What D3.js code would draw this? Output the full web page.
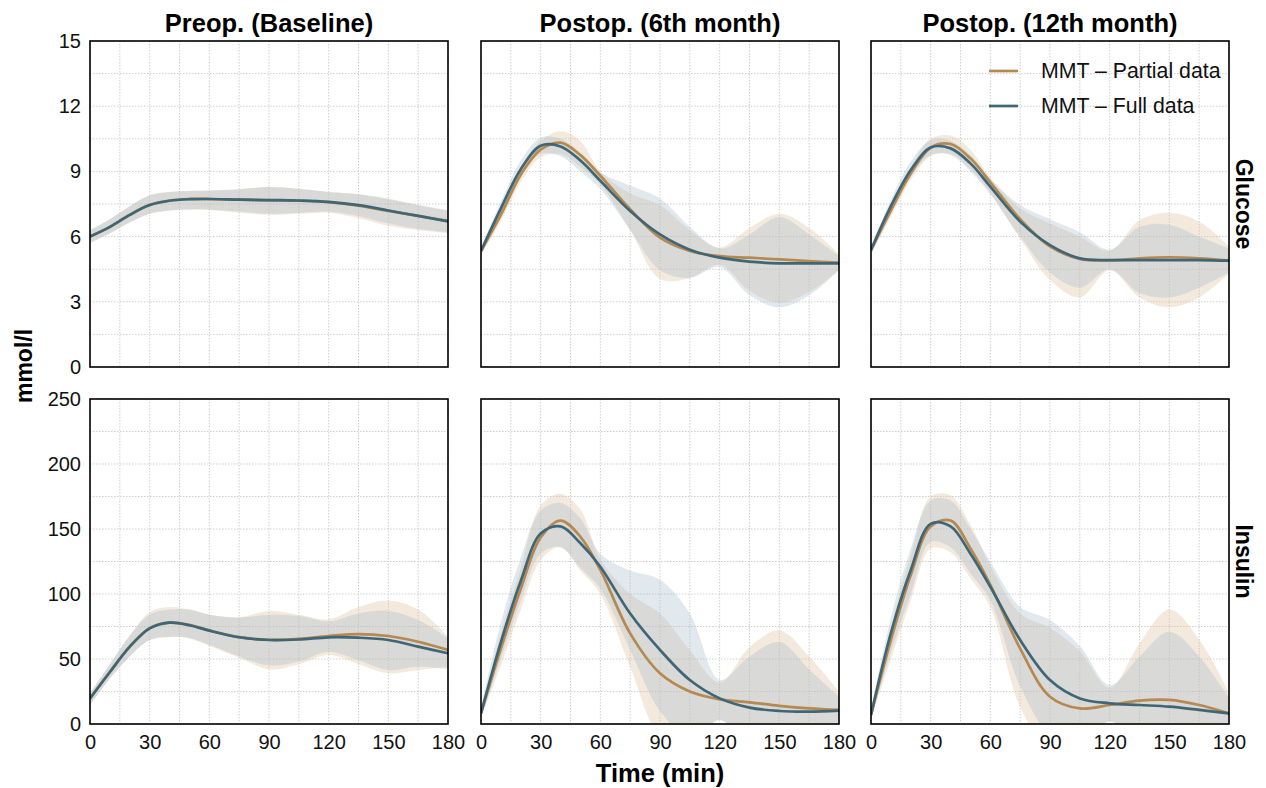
<!DOCTYPE html>
<html><head><meta charset="utf-8">
<script src="https://cdn.jsdelivr.net/npm/d3@7"></script>
<style>
body{margin:0;background:#fff;}
text{font-family:"Liberation Sans",Arial,Helvetica,sans-serif;}
</style></head>
<body><svg id="chart" width="1266" height="788"></svg>
<script>
// ---- data ----
const times = [0, 10, 20, 30, 40, 50, 60, 75, 90, 105, 120, 135, 150, 165, 180];
const xTicks = [0, 30, 60, 90, 120, 150, 180];
const gluTicks = [0, 3, 6, 9, 12, 15];
const insTicks = [0, 50, 100, 150, 200, 250];
const columns = ["Preop. (Baseline)", "Postop. (6th month)", "Postop. (12th month)"];
const rows = ["Glucose", "Insulin"];
const seriesNames = ["MMT \u2013 Partial data", "MMT \u2013 Full data"];

// Glucose, baseline
const gluBasePart   = [6.0, 6.45, 7.0, 7.45, 7.66, 7.73, 7.73, 7.7, 7.67, 7.65, 7.58, 7.42, 7.18, 6.95, 6.72];
const gluBasePartLo = [5.7, 6.15, 6.65, 7.05, 7.2, 7.25, 7.22, 7.1, 7.0, 7.05, 7.1, 6.85, 6.5, 6.3, 6.15];
const gluBasePartHi = [6.3, 6.8, 7.4, 7.9, 8.05, 8.1, 8.12, 8.18, 8.28, 8.2, 8.05, 7.95, 7.75, 7.45, 7.2];
const gluBaseFull   = [6.0, 6.45, 7.0, 7.45, 7.65, 7.72, 7.73, 7.7, 7.68, 7.66, 7.6, 7.45, 7.2, 6.95, 6.7];
const gluBaseFullLo = [5.7, 6.15, 6.65, 7.05, 7.2, 7.25, 7.25, 7.15, 7.05, 7.1, 7.15, 6.95, 6.6, 6.35, 6.2];
const gluBaseFullHi = [6.3, 6.8, 7.4, 7.9, 8.05, 8.1, 8.12, 8.18, 8.28, 8.2, 8.05, 7.95, 7.72, 7.45, 7.2];
// Glucose, 6th month
const gluM6Part   = [5.34, 7.0, 8.85, 10.0, 10.32, 9.75, 8.8, 7.26, 5.95, 5.34, 5.1, 5.03, 4.95, 4.87, 4.8];
const gluM6PartLo = [5.15, 6.7, 8.5, 9.65, 9.8, 9.2, 8.4, 6.3, 4.05, 4.1, 4.7, 3.5, 2.95, 3.45, 4.45];
const gluM6PartHi = [5.5, 7.25, 9.1, 10.4, 10.85, 10.4, 9.0, 8.0, 7.45, 6.3, 5.5, 6.4, 7.05, 6.4, 5.2];
const gluM6Full   = [5.34, 7.3, 9.1, 10.18, 10.15, 9.5, 8.57, 7.18, 6.1, 5.4, 5.03, 4.85, 4.77, 4.77, 4.77];
const gluM6FullLo = [5.15, 7.0, 8.8, 9.8, 9.7, 9.0, 8.2, 6.3, 4.45, 4.1, 4.6, 3.3, 2.75, 3.3, 4.45];
const gluM6FullHi = [5.5, 7.6, 9.5, 10.55, 10.5, 9.85, 8.95, 8.35, 7.75, 6.45, 5.45, 6.1, 6.9, 6.1, 5.1];
// Glucose, 12th month
const gluM12Part   = [5.38, 7.2, 8.9, 10.1, 10.26, 9.6, 8.5, 6.8, 5.55, 4.97, 4.9, 5.0, 5.05, 5.0, 4.9];
const gluM12PartLo = [5.2, 6.9, 8.6, 9.7, 9.8, 9.1, 8.0, 5.9, 4.0, 3.2, 4.45, 3.2, 2.75, 3.2, 4.3];
const gluM12PartHi = [5.55, 7.4, 9.2, 10.5, 10.65, 10.0, 8.7, 7.3, 6.6, 6.0, 5.35, 6.75, 7.1, 6.7, 5.55];
const gluM12Full   = [5.38, 7.4, 9.06, 10.1, 10.06, 9.37, 8.3, 6.69, 5.61, 5.0, 4.92, 4.92, 4.92, 4.92, 4.89];
const gluM12FullLo = [5.2, 7.1, 8.75, 9.75, 9.75, 9.0, 7.95, 6.0, 4.35, 3.65, 4.5, 3.4, 3.2, 3.65, 4.35];
const gluM12FullHi = [5.55, 7.7, 9.45, 10.45, 10.4, 9.75, 8.65, 7.45, 6.8, 6.2, 5.4, 6.45, 6.55, 6.0, 5.45];
// Insulin, baseline
const insBasePart   = [19.7, 40, 59.5, 73.8, 78.2, 76.2, 72, 66.8, 64.8, 65.5, 67.7, 69.2, 67.7, 63.3, 57];
const insBasePartLo = [14.6, 35, 52, 64.6, 67, 66, 60, 51, 42, 46, 53, 46, 39, 41.5, 44];
const insBasePartHi = [23.6, 46, 68, 86, 90, 88, 84, 82, 87, 84, 80.5, 90, 95, 88, 67];
const insBaseFull   = [19.7, 40, 59.5, 73.6, 78, 76, 71.8, 66.7, 64.6, 65, 66.7, 66.4, 64.6, 59.5, 54.4];
const insBaseFullLo = [14.6, 35, 52, 64.6, 67, 66, 61, 52, 45, 48, 55.6, 49, 41.5, 44, 42];
const insBaseFullHi = [23.6, 46, 68, 84, 88, 88, 84, 82, 84, 83, 79, 85, 87, 80, 66];
// Insulin, 6th month
const insM6Part   = [8.2, 58, 104, 143.5, 156.5, 144, 118.5, 69.7, 39, 25, 19, 16.7, 14, 12, 10.8];
const insM6PartLo = [5, 45, 88, 126, 136, 118, 100, 44, -10, -20, 3, -20, -30, -20, 0];
const insM6PartHi = [12, 70, 120, 168, 177, 165, 127, 100, 85, 57, 32, 59, 72, 52, 25];
const insM6Full   = [8.2, 63, 110, 146.5, 152, 139, 121, 85, 57, 33.8, 19.7, 12.6, 10, 9.5, 10.3];
const insM6FullLo = [5, 50, 95, 131, 136, 120, 104, 57, 10, -10, 3, -15, -25, -15, 0];
const insM6FullHi = [12, 78, 128, 164, 170, 158, 131, 118, 111, 85, 34, 52, 63, 42, 21];
// Insulin, 12th month
const insM12Part   = [7, 64.6, 114.6, 152, 156.5, 135, 107, 58, 21, 12, 14.6, 18, 18.5, 14.6, 8.2];
const insM12PartLo = [4, 50, 95, 135, 132, 112, 90, 13, -20, -25, 2, -20, -35, -20, -5];
const insM12PartHi = [10, 75, 130, 175, 176, 153, 122, 85, 74, 56, 28, 62, 88, 65, 24];
const insM12Full   = [7, 70, 118.5, 154, 152, 131, 105.6, 64.6, 33.8, 19.7, 15.9, 14.6, 13.3, 10.8, 8.2];
const insM12FullLo = [4, 55, 100, 140, 136, 116, 95, 29, -8, -15, 2, -15, -25, -15, 0];
const insM12FullHi = [10, 82, 135, 172, 172, 150, 125, 90, 80, 60, 30, 52, 71, 52, 20];

// ---- layout ----
const svg = d3.select("#chart");
const colX = [90, 481, 871], pw = 358;
const rowY = [41, 399], ph = [326, 325];
const colors = { part: "#b5894f", full: "#3f6677" };
const bandFill = { part: "rgb(221,192,158)", full: "rgb(169,192,206)" };
const bandOpacity = 0.35;
const tickFont = 20, legendFont = 21.3, titleFont = 25.5, stripFont = 23, axisFont = 25.5;

const panels = [
  [ {part:[gluBasePart,gluBasePartLo,gluBasePartHi], full:[gluBaseFull,gluBaseFullLo,gluBaseFullHi]},
    {part:[gluM6Part,gluM6PartLo,gluM6PartHi], full:[gluM6Full,gluM6FullLo,gluM6FullHi]},
    {part:[gluM12Part,gluM12PartLo,gluM12PartHi], full:[gluM12Full,gluM12FullLo,gluM12FullHi]} ],
  [ {part:[insBasePart,insBasePartLo,insBasePartHi], full:[insBaseFull,insBaseFullLo,insBaseFullHi]},
    {part:[insM6Part,insM6PartLo,insM6PartHi], full:[insM6Full,insM6FullLo,insM6FullHi]},
    {part:[insM12Part,insM12PartLo,insM12PartHi], full:[insM12Full,insM12FullLo,insM12FullHi]} ]
];
const yDomains = [[0, 15], [0, 250]];
const yTickSets = [gluTicks, insTicks];
const yMinor = [1.5, 25];

rows.forEach((rowName, r) => {
  columns.forEach((colName, c) => {
    const g = svg.append("g").attr("transform", `translate(${colX[c]},${rowY[r]})`);
    const x = d3.scaleLinear().domain([0, 180]).range([0, pw]);
    const y = d3.scaleLinear().domain(yDomains[r]).range([ph[r], 0]);
    const id = `clip${r}${c}`;
    g.append("clipPath").attr("id", id).append("rect").attr("width", pw).attr("height", ph[r]);

    // grid
    const grid = g.append("g");
    d3.range(0, 181, 15).forEach(v => grid.append("line")
      .attr("x1", x(v)).attr("x2", x(v)).attr("y1", 0).attr("y2", ph[r]));
    const ymax = yDomains[r][1];
    d3.range(0, ymax + 1e-6, yMinor[r]).forEach(v => grid.append("line")
      .attr("x1", 0).attr("x2", pw).attr("y1", y(v)).attr("y2", y(v)));
    grid.selectAll("line").attr("stroke", "#cfcfcf").attr("stroke-width", 1)
      .attr("stroke-dasharray", "1.5,1.5");

    const p = panels[r][c];
    const curve = d3.curveCatmullRom.alpha(0.5);
    const plot = g.append("g").attr("clip-path", `url(#${id})`);
    ["part", "full"].forEach(k => {
      const [m, lo, hi] = p[k];
      const area = d3.area().curve(curve).x((d, i) => x(times[i]))
        .y0((d, i) => y(lo[i])).y1((d, i) => y(hi[i]));
      plot.append("path").datum(m).attr("d", area)
        .attr("fill", bandFill[k]).attr("fill-opacity", bandOpacity);
    });
    ["part", "full"].forEach(k => {
      const m = p[k][0];
      const line = d3.line().curve(curve).x((d, i) => x(times[i])).y(d => y(d));
      plot.append("path").datum(m).attr("d", line).attr("fill", "none")
        .attr("stroke", colors[k]).attr("stroke-width", 2.7);
    });

    // frame
    g.append("rect").attr("width", pw).attr("height", ph[r]).attr("fill", "none")
      .attr("stroke", "#000").attr("stroke-width", 1.6);

    // axes (labels only)
    if (c === 0) {
      const ya = d3.axisLeft(y).tickValues(yTickSets[r]).tickSize(0).tickPadding(9);
      const ag = g.append("g").call(ya);
      ag.select(".domain").remove();
      ag.selectAll("text").attr("font-size", tickFont).attr("fill", "#111")
        .attr("font-family", "Liberation Sans, Arial, sans-serif");
    }
    if (r === 1) {
      const xa = d3.axisBottom(x).tickValues(xTicks).tickSize(0).tickPadding(11);
      const ag = g.append("g").attr("transform", `translate(0,${ph[r]})`).call(xa);
      ag.select(".domain").remove();
      ag.selectAll("text").attr("font-size", tickFont).attr("fill", "#111")
        .attr("font-family", "Liberation Sans, Arial, sans-serif");
    }
    if (r === 0) {
      g.append("text").attr("x", pw / 2).attr("y", -9).attr("text-anchor", "middle")
        .attr("font-size", titleFont).attr("font-weight", "bold").text(colName);
    }
    if (c === 2) {
      g.append("text").attr("transform", `translate(${pw + 7},${ph[r] / 2}) rotate(90)`)
        .attr("text-anchor", "middle").attr("font-size", stripFont).attr("font-weight", "bold")
        .text(rowName);
    }
    if (r === 0 && c === 2) {
      const lg = g.append("g");
      ["part", "full"].forEach((k, i) => {
        const yy = 30 + i * 35;
        lg.append("line").attr("x1", 118).attr("x2", 147).attr("y1", yy).attr("y2", yy)
          .attr("stroke", colors[k]).attr("stroke-width", 2.7);
        lg.append("text").attr("x", 170).attr("y", yy).attr("dy", "0.35em")
          .attr("font-size", legendFont).attr("fill", "#111").text(seriesNames[i]);
      });
    }
  });
});

svg.append("text").attr("x", 660).attr("y", 782).attr("text-anchor", "middle")
  .attr("font-size", axisFont).attr("font-weight", "bold").text("Time (min)");
svg.append("text").attr("transform", "translate(32,366) rotate(-90)")
  .attr("text-anchor", "middle").attr("font-size", stripFont).attr("font-weight", "bold").text("mmol/l");
</script>
</body></html>
